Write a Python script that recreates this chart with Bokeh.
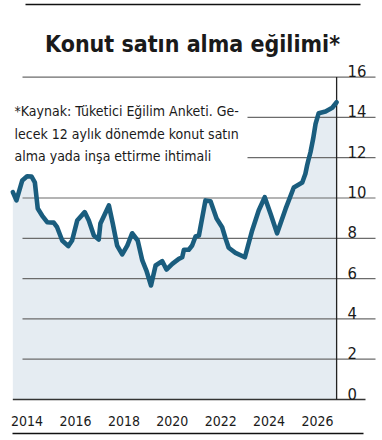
from bokeh.plotting import figure
from bokeh.models import Range1d
from bokeh.core.properties import value
from bokeh.embed import file_html
from bokeh.resources import INLINE

# ---- data ----
years = [2013.41, 2013.56, 2013.80, 2014.00, 2014.18, 2014.32, 2014.44, 2014.62, 2014.83,
         2015.10, 2015.24, 2015.45, 2015.70, 2015.86, 2016.07, 2016.38, 2016.55, 2016.76,
         2016.96, 2017.03, 2017.38, 2017.54, 2017.72, 2017.93, 2018.14, 2018.34, 2018.57,
         2018.76, 2018.93, 2019.12, 2019.31, 2019.58, 2019.76, 2020.00, 2020.27, 2020.41,
         2020.48, 2020.68, 2020.82, 2020.96, 2021.10, 2021.37, 2021.58, 2021.83, 2022.06,
         2022.20, 2022.33, 2022.61, 2023.00, 2023.30, 2023.57, 2023.82, 2024.06, 2024.33,
         2024.68, 2025.02, 2025.37, 2025.50, 2025.57, 2025.62, 2025.71, 2025.82, 2025.92,
         2026.05, 2026.33, 2026.61, 2026.79]
values = [10.29, 9.88, 10.87, 11.08, 11.07, 10.78, 9.48, 9.13, 8.80,
          8.78, 8.55, 7.89, 7.61, 7.89, 8.88, 9.30, 8.88, 8.14,
          7.94, 8.73, 9.63, 8.73, 7.64, 7.20, 7.64, 8.25, 7.89,
          6.90, 6.40, 5.66, 6.65, 6.87, 6.45, 6.73, 6.98, 7.06,
          7.43, 7.43, 7.64, 8.09, 8.14, 9.88, 9.84, 8.98, 8.55,
          7.99, 7.53, 7.28, 7.06, 8.39, 9.38, 10.04, 9.22, 8.25,
          9.46, 10.52, 10.77, 11.20, 11.61, 11.86, 12.27, 12.94, 13.68,
          14.21, 14.29, 14.48, 14.75]
x_ticks = [2014, 2016, 2018, 2020, 2022, 2024, 2026]
x_tick_labels = ["2014", "2016", "2018", "2020", "2022", "2024", "2026"]
y_ticks = [0, 2, 4, 6, 8, 10, 12, 14, 16]
y_tick_labels = ["0", "2", "4", "6", "8", "10", "12", "14", "16"]
title_text = "Konut satın alma eğilimi*"
note_lines = ["*Kaynak: Tüketici Eğilim Anketi. Ge-",
              "lecek 12 aylık dönemde konut satın",
              "alma yada inşa ettirme ihtimali"]

# ---- layout helpers (page pixel -> data coords) ----
PX_PER_YEAR = 24.2
PX_PER_UNIT = 20.15
def px2x(px):
    return 2016 + (px - 75) / PX_PER_YEAR
def px2y(py):
    return (399 - py) / PX_PER_UNIT

W, H = 382, 440
p = figure(width=W, height=H, output_backend="svg", toolbar_location=None,
           x_range=Range1d(px2x(0), px2x(W)), y_range=Range1d(px2y(H), px2y(0)),
           min_border=0, background_fill_color="white", border_fill_color="white")
p.axis.visible = False
p.grid.visible = False
p.outline_line_color = None

FONT = value("'DejaVu Sans Condensed', Roboto, sans-serif")
LINE_COL = "#1a5d7e"
FILL_COL = "#e5ecf2"
GRID_COL = "#6b6b6b"
TXT_COL = "#1a1a1a"

# area fill
p.varea(x=years, y1=[0] * len(years), y2=values, fill_color=FILL_COL)

# gridlines
for t in y_ticks:
    if t == 0:
        continue
    x0 = px2x(247) if t in (12, 14) else px2x(22)
    p.segment(x0=[x0], y0=[t], x1=[px2x(375)], y1=[t], line_color=GRID_COL, line_width=1.2)
p.segment(x0=[years[0]], y0=[0], x1=[px2x(365)], y1=[0], line_color="#333333", line_width=1.4)
p.segment(x0=[years[-1]], y0=[0], x1=[years[-1]], y1=[16], line_color="#222222", line_width=1.3)

# data line
p.line(years, values, line_color=LINE_COL, line_width=4.6, line_join="round", line_cap="round")

# y tick labels (right side, just above their gridlines)
p.text(x=[px2x(347)] * len(y_ticks), y=y_ticks, text=y_tick_labels, text_font=FONT,
       text_font_size="16.5px", text_color=TXT_COL, text_align="left",
       text_baseline="alphabetic", y_offset=-6)

# x tick labels
p.text(x=x_ticks, y=[0] * len(x_ticks), text=x_tick_labels, text_font=FONT,
       text_font_size="14px", text_color=TXT_COL, text_align="center",
       text_baseline="alphabetic", y_offset=21)

# title
p.text(x=[px2x(192)], y=[px2y(43)], text=[title_text], text_font=FONT,
       text_font_size="23px", text_font_style="bold", text_color=TXT_COL,
       text_align="center", text_baseline="alphabetic")

# note
p.text(x=[px2x(14)] * 3, y=[px2y(110), px2y(133), px2y(155)], text=note_lines,
       text_font=FONT, text_font_size="14px", text_color=TXT_COL,
       text_align="left", text_baseline="alphabetic")

# top and bottom rules
p.segment(x0=[px2x(25)], y0=[px2y(4)], x1=[px2x(360)], y1=[px2y(4)], line_color="#111111", line_width=1.6)
p.segment(x0=[px2x(12)], y0=[px2y(433)], x1=[px2x(363)], y1=[px2y(433)], line_color="#111111", line_width=1.6)

open("out.html", "w").write(file_html(p, INLINE))
